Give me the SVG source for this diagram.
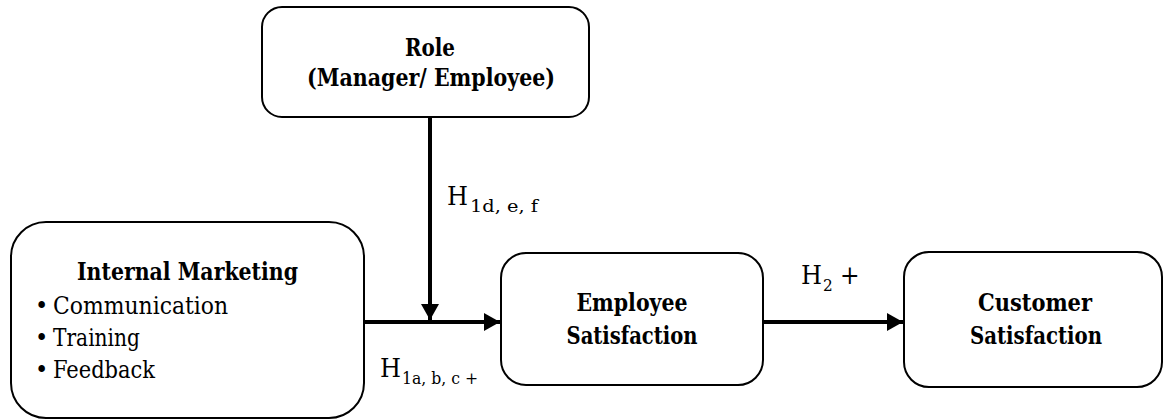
<svg xmlns="http://www.w3.org/2000/svg" width="1165" height="420" viewBox="0 0 1165 420">
<style>
.box{fill:#fff;stroke:#000;stroke-width:2}
text{font-family:'DejaVu Serif Condensed','DejaVu Serif',serif;fill:#000}
.b{font-weight:bold;font-size:25px}
.n{font-size:25px}
.h{font-size:26px}
.s{font-size:17px}
.ln{stroke:#000;stroke-width:4;fill:none}
</style>
<defs>
<marker id="ah" viewBox="0 0 10 10" refX="10" refY="5" markerWidth="4" markerHeight="4.5" markerUnits="strokeWidth" orient="auto" preserveAspectRatio="none">
<path d="M0,0 L10,5 L0,10 Z" fill="#000"/>
</marker>
</defs>
<g id="connectors">
<line class="ln" x1="430" y1="117" x2="430" y2="320" marker-end="url(#ah)"/>
<line class="ln" x1="364" y1="322" x2="500" y2="322" marker-end="url(#ah)"/>
<line class="ln" x1="763" y1="322" x2="903" y2="322" marker-end="url(#ah)"/>
<text class="h" x="447" y="205" textLength="21" lengthAdjust="spacingAndGlyphs">H</text>
<text class="s" x="470" y="212" textLength="68" lengthAdjust="spacingAndGlyphs">1d, e, f</text>
<text class="h" x="380" y="377" textLength="21" lengthAdjust="spacingAndGlyphs">H</text>
<text class="s" x="402" y="384" textLength="76" lengthAdjust="spacingAndGlyphs">1a, b, c +</text>
<text class="h" x="801" y="284" textLength="21" lengthAdjust="spacingAndGlyphs">H</text>
<text class="s" x="823" y="291">2</text>
<text class="h" x="840" y="284">+</text>
</g>
<g id="role">
<rect class="box" x="262" y="7" width="327" height="110" rx="20"/>
<text class="b" x="430" y="56" text-anchor="middle" textLength="50" lengthAdjust="spacingAndGlyphs">Role</text>
<text class="b" x="431" y="86" text-anchor="middle" textLength="248" lengthAdjust="spacingAndGlyphs">(Manager/ Employee)</text>
</g>
<g id="internal-marketing">
<rect class="box" x="11" y="222" width="353" height="196" rx="35"/>
<text class="b" x="77" y="280" textLength="221" lengthAdjust="spacingAndGlyphs">Internal Marketing</text>
<text class="n" x="35" y="314">•<tspan x="53" textLength="175" lengthAdjust="spacingAndGlyphs">Communication</tspan></text>
<text class="n" x="35" y="346">•<tspan x="53" textLength="87" lengthAdjust="spacingAndGlyphs">Training</tspan></text>
<text class="n" x="35" y="378">•<tspan x="53" textLength="102" lengthAdjust="spacingAndGlyphs">Feedback</tspan></text>
</g>
<g id="employee-satisfaction">
<rect class="box" x="501" y="253" width="262" height="132" rx="25"/>
<text class="b" x="632" y="311" text-anchor="middle" textLength="111" lengthAdjust="spacingAndGlyphs">Employee</text>
<text class="b" x="632" y="344" text-anchor="middle" textLength="131" lengthAdjust="spacingAndGlyphs">Satisfaction</text>
</g>
<g id="customer-satisfaction">
<rect class="box" x="904" y="252" width="258" height="135" rx="25"/>
<text class="b" x="1035" y="311" text-anchor="middle" textLength="114" lengthAdjust="spacingAndGlyphs">Customer</text>
<text class="b" x="1036" y="344" text-anchor="middle" textLength="132" lengthAdjust="spacingAndGlyphs">Satisfaction</text>
</g>
</svg>
